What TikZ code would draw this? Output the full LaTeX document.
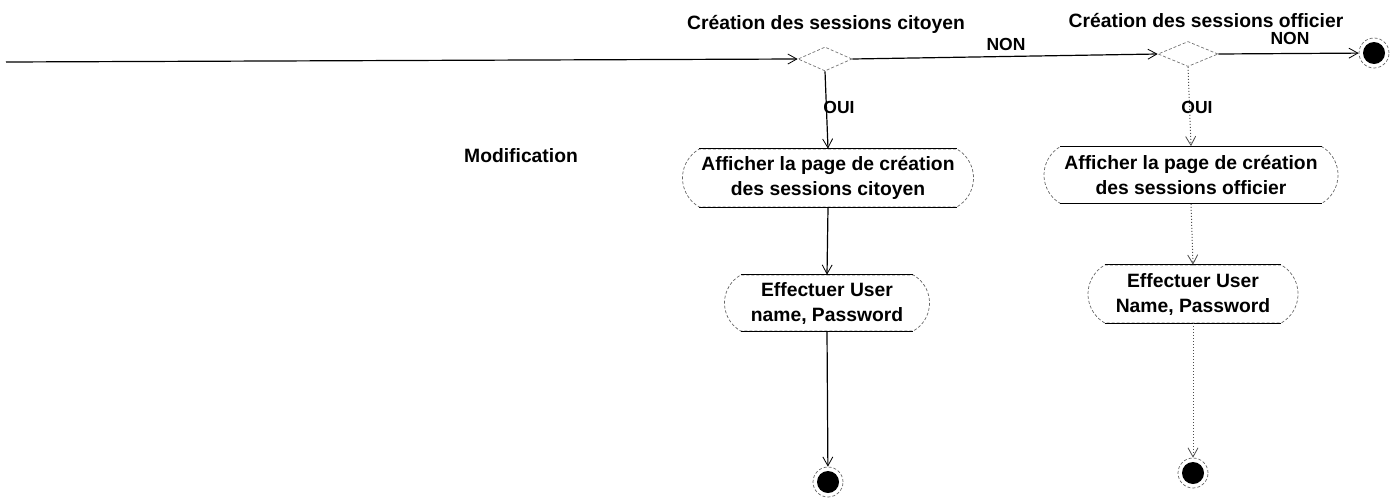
\documentclass[tikz,border=0pt]{standalone}
\usepackage{fontspec}
\setmainfont{Liberation Sans}
\usetikzlibrary{arrows.meta,shapes.geometric,shapes.misc}
\begin{document}
\begin{tikzpicture}[x=1pt,y=-1pt,
  every node/.style={font=\bfseries\fontsize{19.3}{25}\selectfont},
  lbl/.style={anchor=base, inner sep=0pt},
  small/.style={font=\bfseries\fontsize{17.5}{20}\selectfont},
  decision/.style={diamond, draw=black!55, line width=0.7pt, dash pattern=on 3pt off 2pt, inner sep=0pt},
  activity/.style={rounded rectangle, rounded rectangle arc length=120, draw=black!60, line width=0.7pt,
    dash pattern=on 3pt off 2pt, align=center, inner sep=0pt},
  endstate/.style={circle, draw=black!60, line width=0.7pt, dash pattern=on 3pt off 2pt, minimum size=30pt, inner sep=0pt,
    path picture={\fill[black] (path picture bounding box.center) circle (11pt);}},
  flow/.style={line width=1.2pt, -{Straight Barb[length=9pt,width=10pt,line width=0.8pt]}},
  dflow/.style={line width=1pt, black!70, dotted, -{Straight Barb[length=9pt,width=10pt,line width=0.8pt]}},
  edge/.style={line width=1.1pt}
]
\useasboundingbox (0,0) rectangle (1400,498);

% titles and labels
\node[lbl] (t1) at (826,29) {Création des sessions citoyen};
\node[lbl] (t2) at (1206,27) {Création des sessions officier};
\node[lbl, small] (non1) at (1006,50) {NON};
\node[lbl, small] (non2) at (1290,44) {NON};
\node[lbl, small] (oui1) at (839,113) {OUI};
\node[lbl, small] (oui2) at (1197,113) {OUI};
\node[lbl] (modif) at (521,162) {Modification};

% decisions
\node[decision, minimum width=54pt, minimum height=24pt] (d1) at (825,59) {};
\node[decision, minimum width=60pt, minimum height=25pt] (d2) at (1188,54) {};

% activities
\node[activity, minimum width=291pt, minimum height=58pt] (b1) at (828,178) {Afficher la page de création\\des sessions citoyen};
\node[activity, minimum width=205pt, minimum height=56pt] (b2) at (827,303) {Effectuer User\\name, Password};
\node[activity, minimum width=294pt, minimum height=57pt] (b3) at (1191,175) {Afficher la page de création\\des sessions officier};
\node[activity, minimum width=210pt, minimum height=58pt] (b4) at (1193,294) {Effectuer User\\Name, Password};

% solid top/bottom edges
\foreach \b in {b1,b2,b3,b4}{
  \draw[edge] (\b.north west) -- (\b.north east);
  \draw[edge] (\b.south west) -- (\b.south east);
}

% end states
\node[endstate] (e0) at (1374,53) {};
\node[endstate] (e1) at (828,482) {};
\node[endstate] (e2) at (1193,473) {};

\coordinate (start) at (6,62);

% connectors
\draw[flow] (start) -- (d1.west);
\draw[flow] (d1.east) -- (d2.west);
\draw[flow] (d2.east) -- (e0);
\draw[flow] (d1.south) -- (b1.north);
\draw[flow] (b1.south) -- (b2.north);
\draw[flow] (b2.south) -- (e1);
\draw[dflow] (d2.south) -- (b3.north);
\draw[dflow] (b3.south) -- (b4.north);
\draw[dflow] (b4.south) -- (e2);
\end{tikzpicture}
\end{document}
